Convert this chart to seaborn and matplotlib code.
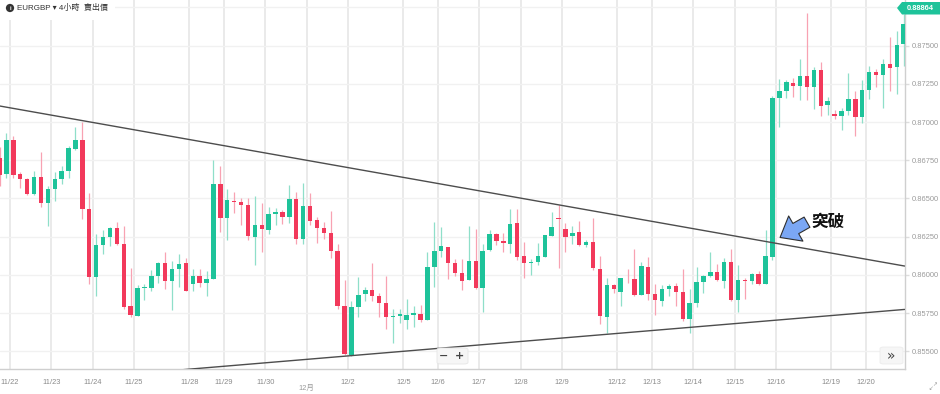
import matplotlib
matplotlib.use("Agg")
import matplotlib.pyplot as plt
import numpy as np
import pandas as pd
import seaborn as sns
from matplotlib.patches import Rectangle, Polygon, FancyBboxPatch

# ---------------- data (EURGBP, 4h candles) ----------------
opens = [0.86763, 0.86660, 0.86883, 0.86659, 0.86626, 0.86530, 0.86639, 0.86473, 0.86560, 0.86628,
         0.86682, 0.86824, 0.86885, 0.86431, 0.85988, 0.86194, 0.86248, 0.86305, 0.86204, 0.85799,
         0.85733, 0.85914, 0.85916, 0.85995, 0.86078, 0.85958, 0.86037, 0.86078, 0.85939, 0.85991,
         0.85949, 0.85971, 0.86593, 0.86371, 0.86484, 0.86479, 0.86456, 0.86248, 0.86325, 0.86294,
         0.86399, 0.86412, 0.86377, 0.86495, 0.86235, 0.86451, 0.86357, 0.86309, 0.86272, 0.86155,
         0.85799, 0.85476, 0.85792, 0.85876, 0.85901, 0.85864, 0.85814, 0.85727, 0.85731, 0.85705,
         0.85740, 0.85746, 0.85707, 0.86050, 0.86157, 0.86183, 0.86080, 0.86011, 0.85965, 0.86093,
         0.85912, 0.86165, 0.86270, 0.86222, 0.86202, 0.86338, 0.86122, 0.86080, 0.86085, 0.86119,
         0.86257, 0.86371, 0.86300, 0.86253, 0.86281, 0.86194, 0.86217, 0.86041, 0.85727, 0.85934,
         0.85888, 0.85975, 0.85975, 0.85871, 0.86054, 0.85878, 0.85831, 0.85908, 0.85925, 0.85886,
         0.85713, 0.85814, 0.85956, 0.85991, 0.86017, 0.85962, 0.86085, 0.85836, 0.85969, 0.85960,
         0.86006, 0.85940, 0.86115, 0.87158, 0.87204, 0.87258, 0.87236, 0.87300, 0.87231, 0.87341,
         0.87114, 0.87055, 0.87040, 0.87075, 0.87151, 0.87032, 0.87210, 0.87326, 0.87307, 0.87379,
         0.87363, 0.87509]
highs = [0.86839, 0.86927, 0.86909, 0.86672, 0.86634, 0.86678, 0.86805, 0.86582, 0.86674, 0.86713,
         0.86844, 0.86970, 0.87003, 0.86534, 0.86268, 0.86294, 0.86312, 0.86346, 0.86322, 0.86045,
         0.85934, 0.85943, 0.86032, 0.86085, 0.86148, 0.86093, 0.86135, 0.86109, 0.86037, 0.86037,
         0.86026, 0.86752, 0.86713, 0.86560, 0.86541, 0.86505, 0.86505, 0.86517, 0.86471, 0.86443,
         0.86440, 0.86425, 0.86588, 0.86545, 0.86604, 0.86538, 0.86381, 0.86344, 0.86416, 0.86202,
         0.85967, 0.85831, 0.85984, 0.85923, 0.86076, 0.85880, 0.85993, 0.85779, 0.85779, 0.85842,
         0.85797, 0.85805, 0.86150, 0.86344, 0.86312, 0.86183, 0.86106, 0.86106, 0.86320, 0.86299,
         0.86202, 0.86292, 0.86272, 0.86272, 0.86429, 0.86429, 0.86215, 0.86106, 0.86209, 0.86259,
         0.86410, 0.86460, 0.86338, 0.86322, 0.86355, 0.86229, 0.86371, 0.86126, 0.85977, 0.85940,
         0.85980, 0.86037, 0.86170, 0.86087, 0.86119, 0.85939, 0.85932, 0.85940, 0.85949, 0.86037,
         0.85910, 0.86050, 0.86001, 0.86150, 0.86073, 0.86111, 0.86170, 0.86063, 0.85982, 0.86011,
         0.86026, 0.86294, 0.87171, 0.87282, 0.87276, 0.87287, 0.87411, 0.87716, 0.87359, 0.87394,
         0.87166, 0.87079, 0.87095, 0.87324, 0.87206, 0.87276, 0.87369, 0.87348, 0.87415, 0.87555,
         0.87598, 0.87708]
lows = [0.86582, 0.86632, 0.86636, 0.86571, 0.86525, 0.86523, 0.86446, 0.86320, 0.86486, 0.86595,
        0.86636, 0.86818, 0.86368, 0.85939, 0.85862, 0.86137, 0.86187, 0.86198, 0.85779, 0.85723,
        0.85731, 0.85836, 0.85897, 0.85949, 0.85910, 0.85770, 0.85923, 0.85893, 0.85893, 0.85923,
        0.85864, 0.85971, 0.86281, 0.86231, 0.86405, 0.86329, 0.86229, 0.86067, 0.86150, 0.86268,
        0.86327, 0.86333, 0.86338, 0.86202, 0.86202, 0.86327, 0.86207, 0.86235, 0.86113, 0.85777,
        0.85476, 0.85469, 0.85727, 0.85831, 0.85831, 0.85723, 0.85648, 0.85552, 0.85683, 0.85644,
        0.85661, 0.85690, 0.85707, 0.85923, 0.86115, 0.85975, 0.85993, 0.85899, 0.85965, 0.85908,
        0.85759, 0.86155, 0.86194, 0.86148, 0.86142, 0.86098, 0.85978, 0.85999, 0.86063, 0.86119,
        0.86257, 0.86045, 0.86152, 0.86202, 0.86187, 0.86183, 0.86032, 0.85677, 0.85623, 0.85880,
        0.85797, 0.85949, 0.85862, 0.85871, 0.85836, 0.85738, 0.85797, 0.85860, 0.85797, 0.85700,
        0.85618, 0.85792, 0.85880, 0.85984, 0.85962, 0.85912, 0.85831, 0.85759, 0.85840, 0.85940,
        0.85936, 0.85940, 0.86098, 0.86970, 0.87156, 0.87166, 0.87145, 0.87145, 0.87088, 0.87040,
        0.87047, 0.87022, 0.86949, 0.87047, 0.86909, 0.86992, 0.87149, 0.87228, 0.87091, 0.87202,
        0.87182, 0.87367]
closes = [0.86654, 0.86883, 0.86654, 0.86626, 0.86530, 0.86639, 0.86473, 0.86560, 0.86628, 0.86680,
          0.86829, 0.86885, 0.86429, 0.85988, 0.86196, 0.86248, 0.86305, 0.86200, 0.85792, 0.85738,
          0.85912, 0.85921, 0.85995, 0.86078, 0.85960, 0.86037, 0.86073, 0.85897, 0.85995, 0.85949,
          0.85973, 0.86593, 0.86371, 0.86488, 0.86477, 0.86460, 0.86257, 0.86325, 0.86299, 0.86399,
          0.86412, 0.86377, 0.86495, 0.86237, 0.86451, 0.86355, 0.86309, 0.86274, 0.86155, 0.85797,
          0.85480, 0.85792, 0.85871, 0.85901, 0.85864, 0.85818, 0.85727, 0.85733, 0.85746, 0.85736,
          0.85751, 0.85707, 0.86052, 0.86159, 0.86187, 0.86078, 0.86015, 0.85962, 0.86091, 0.85912,
          0.86159, 0.86266, 0.86220, 0.86207, 0.86335, 0.86119, 0.86076, 0.86087, 0.86122, 0.86259,
          0.86314, 0.86364, 0.86246, 0.86274, 0.86194, 0.86215, 0.86042, 0.85729, 0.85934, 0.85905,
          0.85980, 0.85971, 0.85869, 0.86056, 0.85876, 0.85836, 0.85910, 0.85925, 0.85888, 0.85709,
          0.85814, 0.85956, 0.85991, 0.86017, 0.85965, 0.86085, 0.85836, 0.85967, 0.85960, 0.86008,
          0.85940, 0.86122, 0.87158, 0.87204, 0.87263, 0.87236, 0.87300, 0.87229, 0.87341, 0.87108,
          0.87140, 0.87040, 0.87075, 0.87151, 0.87032, 0.87210, 0.87326, 0.87307, 0.87379, 0.87356,
          0.87505, 0.87642]

date_tick_pos = [1.5, 7.5, 13.5, 19.5, 27.5, 32.5, 38.5, 44.5, 50.5, 58.5, 63.5, 69.5, 75.5,
                 81.5, 89.5, 94.5, 100.5, 106.5, 112.5, 120.5, 125.5]
date_tick_labels = ["11/22", "11/23", "11/24", "11/25", "11/28", "11/29", "11/30", "", "12/2",
                    "12/5", "12/6", "12/7", "12/8", "12/9", "12/12", "12/13", "12/14", "12/15",
                    "12/16", "12/19", "12/20"]
month_label = "12月"
month_label_pos = 44.5

price_ticks = [0.85500, 0.85750, 0.86000, 0.86250, 0.86500, 0.86750, 0.87000, 0.87250, 0.87500, 0.87750]
price_tick_labels = ["0.85500", "0.85750", "0.86000", "0.86250", "0.86500", "0.86750",
                     "0.87000", "0.87250", "0.87500", ""]

upper_line_x = [0.07, 131.14]
upper_line_y = [0.87105, 0.86058]
lower_line_x = [26.14, 131.14]
lower_line_y = [0.85378, 0.85774]

title_text = "EURGBP ▾ 4小時  賣出價"
last_price_label = "0.88864"
annotation_text = "突破"
annotation_xy = (113.1, 0.86245)
annotation_tail = (117.0, 0.86345)
annotation_text_pos = (120.0, 0.86350)

# ---------------- style ----------------
sns.set_theme(style="white")
plt.rcParams['font.family'] = ['Liberation Sans', 'Noto Sans CJK TC', 'DejaVu Sans']

GREEN = "#1ec39a"
RED = "#f2395b"
GREEN_W = "#8fdfc9"
RED_W = "#f8a2b2"

df = pd.DataFrame({"open": opens, "high": highs, "low": lows, "close": closes})
df["idx"] = np.arange(len(df))
df["up"] = df["close"] >= df["open"]
df["bottom"] = df[["open", "close"]].min(axis=1)
df["height"] = (df["close"] - df["open"]).abs().clip(lower=0.00005)

fig = plt.figure(figsize=(9.4, 3.94), dpi=100)
ax = fig.add_axes([0, 25 / 394, 905 / 940, 369 / 394])

ax.set_xlim(0.07, 131.2)
ax.set_ylim(0.853842, 0.87799)

# grid
ax.set_xticks(date_tick_pos)
ax.set_xticklabels(date_tick_labels)
ax.set_yticks(price_ticks)
ax.set_yticklabels(price_tick_labels)
ax.yaxis.tick_right()
ax.set_axisbelow(True)
ax.grid(axis="x", color="#e4e4e4", lw=1.1)
ax.grid(axis="y", color="#f1f1f1", lw=1.0)
ax.tick_params(axis="x", length=4, width=1, color="#dddddd", labelsize=5.4,
               labelcolor="#8a8a8a", pad=3)
ax.tick_params(axis="y", length=3, width=1, color="#dddddd", labelsize=5.4,
               labelcolor="#9a9a9a", pad=2)
for s in ["top", "left"]:
    ax.spines[s].set_visible(False)
for s in ["right", "bottom"]:
    ax.spines[s].set_color("#cfcfcf")
    ax.spines[s].set_linewidth(1.0)

# candles
wick_cols = [GREEN_W if u else RED_W for u in df["up"]]
body_cols = [GREEN if u else RED for u in df["up"]]
ax.vlines(df["idx"], df["low"], df["high"], colors=wick_cols, lw=0.9, zorder=2)
ax.bar(df["idx"], df["height"], bottom=df["bottom"], width=0.64, color=body_cols,
       linewidth=0, zorder=3)

# trend lines
sns.lineplot(x=upper_line_x, y=upper_line_y, ax=ax, color="#4d4d4d", lw=1.0, zorder=4)
sns.lineplot(x=lower_line_x, y=lower_line_y, ax=ax, color="#4d4d4d", lw=1.0, zorder=4)

# month label
ax.text(month_label_pos, -0.052, month_label, transform=ax.get_xaxis_transform(),
        ha="center", va="center", fontsize=5.4, color="#9a9a9a")

# breakout annotation
ax.annotate("", xy=annotation_xy, xytext=annotation_tail,
            arrowprops=dict(arrowstyle="simple,head_length=1.0,head_width=1.6,tail_width=0.65",
                            mutation_scale=13, fc="#7ba7f4", ec="#2e2e2e", lw=0.8,
                            shrinkA=0, shrinkB=0),
            zorder=6)
ax.text(annotation_text_pos[0], annotation_text_pos[1], annotation_text, ha="center",
        va="center", fontsize=12, fontweight="bold", color="#111111",
        family=["Noto Sans CJK TC", "DejaVu Sans"], zorder=6)

# title strip
ax.add_patch(Rectangle((0, 1 - 20 / 369), 115 / 905, 20 / 369, transform=ax.transAxes,
                       fc="white", ec="none", zorder=5))
fig.text(10 / 940, 1 - 8 / 394, "i", ha="center", va="center", fontsize=4.2, color="white",
         fontweight="bold", zorder=7,
         bbox=dict(boxstyle="circle,pad=0.28", fc="#333333", ec="none"))
fig.text(17 / 940, 1 - 8 / 394, title_text, ha="left", va="center", fontsize=5.8,
         color="#333333", zorder=7)

# last price tag
W, H = 940.0, 394.0
tag = Polygon([(897 / W, 1 - 8 / H), (902 / W, 1 - 2 / H), (940 / W, 1 - 2 / H),
               (940 / W, 1 - 14.5 / H), (902 / W, 1 - 14.5 / H)], closed=True,
              transform=fig.transFigure, fc=GREEN, ec="none", zorder=8)
fig.patches.append(tag)
fig.text(920 / W, 1 - 8.3 / H, last_price_label, ha="center", va="center", fontsize=5.4,
         fontweight="bold", color="white", zorder=9)

# zoom buttons
btn = FancyBboxPatch((437 / W, 1 - 364 / H), 31 / W, 16 / H, boxstyle="round,pad=0.0,rounding_size=0.004",
                     transform=fig.transFigure, fc="#f6f6f6", ec="#e6e6e6", lw=0.6, zorder=8)
fig.patches.append(btn)
fig.text(444 / W, 1 - 356 / H, "−", ha="center", va="center", fontsize=8, color="#444444",
         fontweight="bold", family=["DejaVu Sans"], zorder=9)
fig.text(460 / W, 1 - 356 / H, "+", ha="center", va="center", fontsize=8, color="#444444",
         fontweight="bold", family=["DejaVu Sans"], zorder=9)
btn2 = FancyBboxPatch((880 / W, 1 - 364 / H), 23 / W, 17 / H, boxstyle="round,pad=0.0,rounding_size=0.004",
                      transform=fig.transFigure, fc="#f6f6f6", ec="#ececec", lw=0.6, zorder=8)
fig.patches.append(btn2)
fig.text(891 / W, 1 - 355.5 / H, "»", ha="center", va="center", fontsize=10, color="#444444",
         family=["DejaVu Sans"], zorder=9)
# resize icon (two tiny diagonal arrows)
fig.text(935 / W, 1 - 385 / H, "↗", ha="center", va="center", fontsize=4, color="#9a9a9a",
         family=["DejaVu Sans"], zorder=9)
fig.text(931 / W, 1 - 389 / H, "↙", ha="center", va="center", fontsize=4, color="#9a9a9a",
         family=["DejaVu Sans"], zorder=9)

fig.savefig("out.png", dpi=100)
